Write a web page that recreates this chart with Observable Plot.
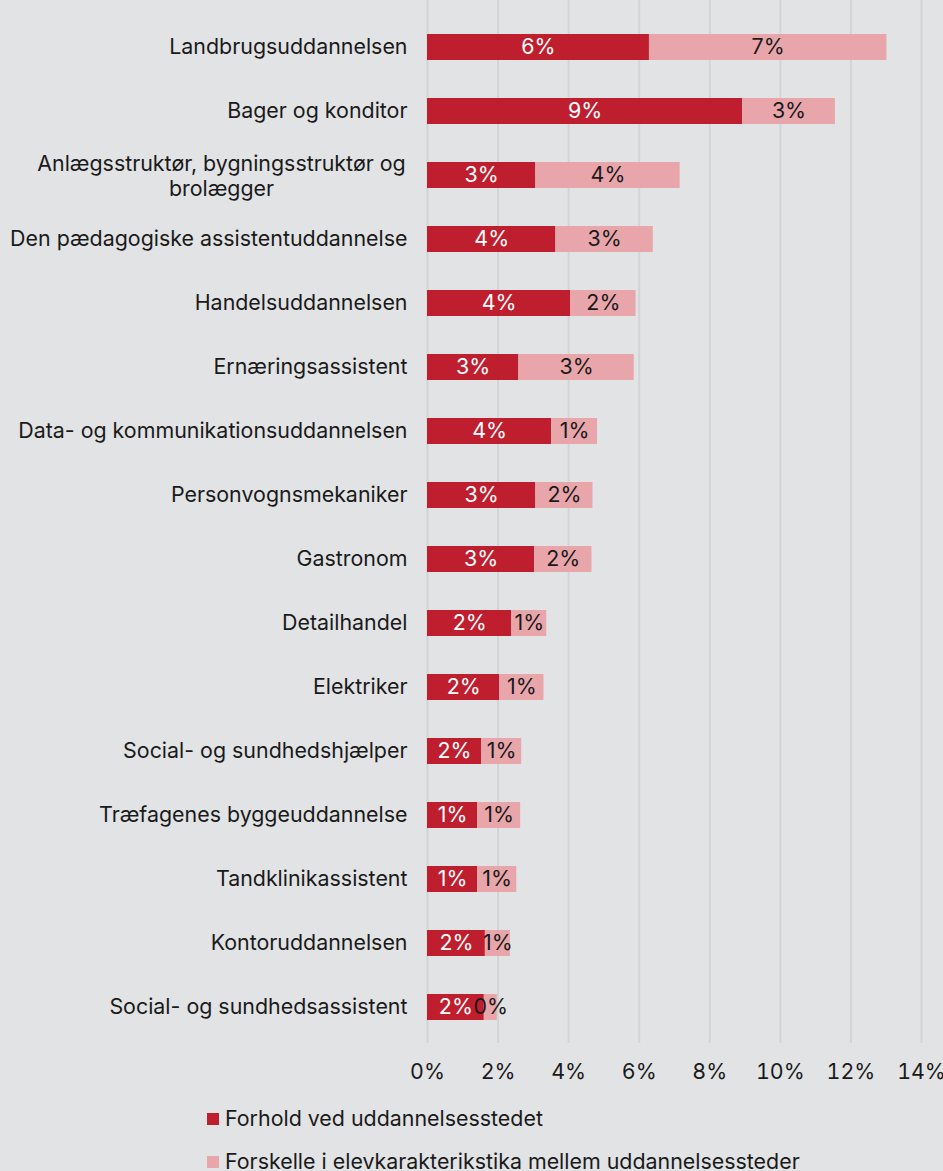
<!DOCTYPE html>
<html>
<head>
<meta charset="utf-8">
<script src="https://cdn.jsdelivr.net/npm/d3@7"></script>
<script src="https://cdn.jsdelivr.net/npm/@observablehq/plot@0.6"></script>
<style>
  html, body { margin: 0; padding: 0; background: #e2e3e5; }
  body { width: 943px; height: 1171px; overflow: hidden; font-family: Inter, "Noto Sans", sans-serif; color: #1a1a1a; position: relative; }
  #chart { position: absolute; left: 0; top: 0; }
  #legend { position: absolute; left: 207px; top: 1097px; font-size: 21.4px; }
  .item { display: flex; align-items: center; height: 43px; line-height: 43px; white-space: nowrap; }
  .sw { width: 12px; height: 12px; margin-right: 6px; flex: none; }
</style>
</head>
<body>
<div id="chart"></div>
<div id="legend"></div>
<script>
const categories = [
  "Landbrugsuddannelsen",
  "Bager og konditor",
  "Anlægsstruktør, bygningsstruktør og\nbrolægger",
  "Den pædagogiske assistentuddannelse",
  "Handelsuddannelsen",
  "Ernæringsassistent",
  "Data- og kommunikationsuddannelsen",
  "Personvognsmekaniker",
  "Gastronom",
  "Detailhandel",
  "Elektriker",
  "Social- og sundhedshjælper",
  "Træfagenes byggeuddannelse",
  "Tandklinikassistent",
  "Kontoruddannelsen",
  "Social- og sundhedsassistent"
];
const seriesNames = ["Forhold ved uddannelsesstedet", "Forskelle i elevkarakterikstika mellem uddannelsessteder"];
const forhold   = [6.29, 8.93, 3.07, 3.64, 4.06, 2.59, 3.52, 3.07, 3.04, 2.39, 2.05, 1.53, 1.42, 1.42, 1.64, 1.61];
const forskelle = [6.73, 2.63, 4.09, 2.76, 1.85, 3.27, 1.30, 1.62, 1.62, 0.99, 1.25, 1.14, 1.22, 1.11, 0.71, 0.37];
const xTicks = [0, 2, 4, 6, 8, 10, 12, 14];
const colors = ["#be1e2d", "#e8a6ab"];
const textColors = ["#ffffff", "#1a1a1a"];

const data = [];
categories.forEach((c, i) => {
  data.push({cat: c, series: seriesNames[0], value: forhold[i], idx: 0});
  data.push({cat: c, series: seriesNames[1], value: forskelle[i], idx: 1});
});

const wrapped = categories[2];
const fs = 21.4;
const plot = Plot.plot({
  width: 943,
  height: 1090,
  marginLeft: 427,
  marginRight: 22,
  marginTop: 13,
  marginBottom: 49,
  style: {background: "transparent", fontFamily: "Inter, 'Noto Sans', sans-serif", fontSize: fs + "px", color: "#1a1a1a"},
  x: {domain: [0, 14], ticks: xTicks, tickFormat: d => d + "%", tickSize: 0, tickPadding: 22, label: null},
  y: {domain: categories, paddingInner: 0.6, paddingOuter: 0.3, label: null, axis: null},
  color: {domain: seriesNames, range: colors},
  marks: [
    Plot.ruleX(xTicks, {stroke: "#d3d4d6", strokeWidth: 2, insetTop: -13, insetBottom: -2}),
    Plot.barX(data, Plot.stackX({x: "value", y: "cat", fill: "series", z: "series"})),
    Plot.textX(data, Plot.stackX({x: "value", y: "cat", z: "series", text: d => Math.round(d.value) + "%", fill: d => textColors[d.idx], fontSize: fs})),
    Plot.text(categories.filter(c => c !== wrapped), {x: 0, y: d => d, text: d => d, textAnchor: "end", dx: -20, fontSize: fs, fill: "#1a1a1a"}),
    Plot.text([wrapped], {x: 0, y: d => d, text: d => d, textAnchor: "middle", dx: -206, lineHeight: 1.15, fontSize: fs, fill: "#1a1a1a"})
  ]
});
document.getElementById("chart").appendChild(plot);

const legend = document.getElementById("legend");
seriesNames.forEach((s, i) => {
  const it = document.createElement("div");
  it.className = "item";
  it.innerHTML = `<span class="sw" style="background:${colors[i]}"></span><span>${s}</span>`;
  legend.appendChild(it);
});
</script>
</body>
</html>
